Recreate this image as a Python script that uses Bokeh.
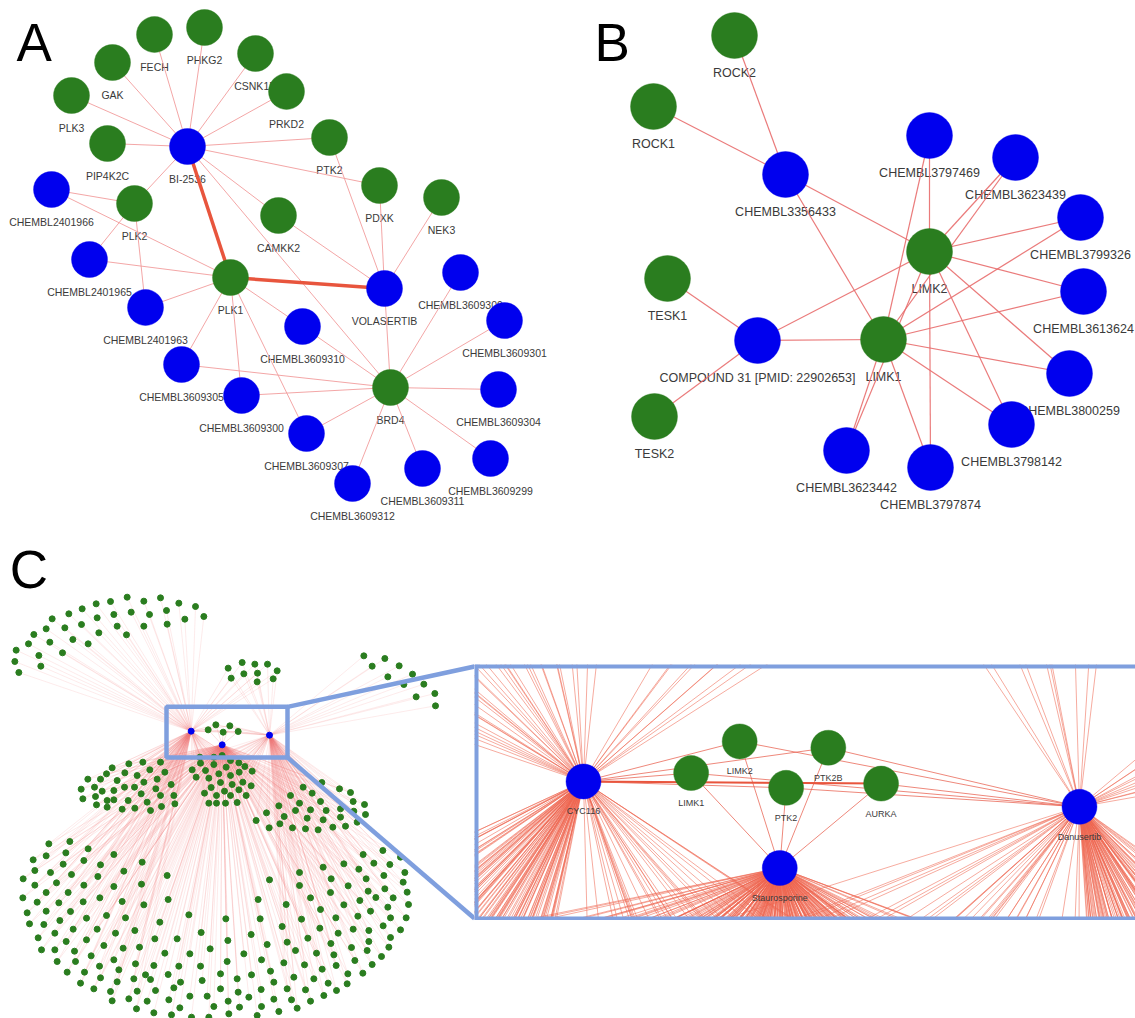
from bokeh.plotting import figure
from bokeh.models import ColumnDataSource, Range1d, Spacer
from bokeh.layouts import row, column
from bokeh.embed import file_html
from bokeh.resources import INLINE
from bokeh.core.properties import value

FONT = "Liberation Sans"
BLUE = "#0000ee"
GREEN = "#2a7d1f"
LABEL_COLOR = "#3a3a3a"
FRAME_BLUE = "#7f9fde"

# ---------------- Panel A : network around PLK1 ----------------
A_names = ["FECH", "PHKG2", "GAK", "CSNK1D", "PRKD2", "PLK3", "PIP4K2C", "BI-2536", "PTK2",
           "CHEMBL2401966", "PLK2", "PDXK", "NEK3", "CAMKK2", "CHEMBL2401965", "PLK1",
           "VOLASERTIB", "CHEMBL3609309", "CHEMBL2401963", "CHEMBL3609310", "CHEMBL3609301",
           "CHEMBL3609305", "BRD4", "CHEMBL3609304", "CHEMBL3609300", "CHEMBL3609307",
           "CHEMBL3609299", "CHEMBL3609311", "CHEMBL3609312"]
A_x = [154, 204, 112, 255, 286, 71, 107, 187, 329, 51, 134, 379, 441, 278, 89, 230,
       384, 460, 145, 302, 504, 181, 390, 498, 241, 306, 490, 422, 352]
A_y = [34, 27, 62, 53, 91, 95, 143, 146, 137, 189, 203, 185, 197, 215, 259, 277,
       288, 272, 307, 326, 320, 364, 387, 389, 395, 433, 458, 468, 483]
A_drugs = ["BI-2536", "VOLASERTIB", "CHEMBL2401966", "CHEMBL2401965", "CHEMBL2401963",
           "CHEMBL3609309", "CHEMBL3609310", "CHEMBL3609301", "CHEMBL3609305", "CHEMBL3609304",
           "CHEMBL3609300", "CHEMBL3609307", "CHEMBL3609299", "CHEMBL3609311", "CHEMBL3609312"]
A_edges = [("BI-2536", "FECH"), ("BI-2536", "PHKG2"), ("BI-2536", "GAK"), ("BI-2536", "CSNK1D"),
           ("BI-2536", "PRKD2"), ("BI-2536", "PLK3"), ("BI-2536", "PIP4K2C"), ("BI-2536", "PTK2"),
           ("BI-2536", "PDXK"), ("BI-2536", "PLK2"), ("BI-2536", "CAMKK2"), ("BI-2536", "BRD4"),
           ("PTK2", "VOLASERTIB"), ("PDXK", "VOLASERTIB"), ("NEK3", "VOLASERTIB"),
           ("CAMKK2", "VOLASERTIB"), ("VOLASERTIB", "BRD4"),
           ("CHEMBL2401966", "PLK2"), ("CHEMBL2401966", "PLK1"), ("CHEMBL2401965", "PLK2"),
           ("CHEMBL2401965", "PLK1"), ("CHEMBL2401963", "PLK2"), ("CHEMBL2401963", "PLK1"),
           ("PLK1", "CHEMBL3609305"), ("PLK1", "CHEMBL3609300"), ("PLK1", "CHEMBL3609307"),
           ("PLK1", "CHEMBL3609310"),
           ("BRD4", "CHEMBL3609305"), ("BRD4", "CHEMBL3609300"), ("BRD4", "CHEMBL3609307"),
           ("BRD4", "CHEMBL3609310"), ("BRD4", "CHEMBL3609309"), ("BRD4", "CHEMBL3609301"),
           ("BRD4", "CHEMBL3609304"), ("BRD4", "CHEMBL3609299"), ("BRD4", "CHEMBL3609311"),
           ("BRD4", "CHEMBL3609312")]
A_strong_edges = [("BI-2536", "PLK1"), ("PLK1", "VOLASERTIB")]

# ---------------- Panel B : network around LIMK1 / LIMK2 ----------------
B_names = ["ROCK2", "ROCK1", "CHEMBL3356433", "CHEMBL3797469", "CHEMBL3623439", "CHEMBL3799326",
           "LIMK2", "TESK1", "CHEMBL3613624", "COMPOUND 31 [PMID: 22902653]", "LIMK1",
           "CHEMBL3800259", "TESK2", "CHEMBL3798142", "CHEMBL3623442", "CHEMBL3797874"]
B_x = [734, 653, 785, 929, 1015, 1080, 929, 667, 1083, 757, 883, 1069, 654, 1011, 846, 930]
B_y = [35, 106, 174, 135, 157, 217, 251, 278, 291, 340, 339, 373, 416, 424, 450, 467]
B_drugs = ["CHEMBL3356433", "CHEMBL3797469", "CHEMBL3623439", "CHEMBL3799326", "CHEMBL3613624",
           "COMPOUND 31 [PMID: 22902653]", "CHEMBL3800259", "CHEMBL3798142", "CHEMBL3623442",
           "CHEMBL3797874"]
B_shared = ["CHEMBL3797469", "CHEMBL3623439", "CHEMBL3799326", "CHEMBL3613624", "CHEMBL3800259",
            "CHEMBL3798142", "CHEMBL3797874", "CHEMBL3623442"]
B_edges = [("ROCK2", "CHEMBL3356433"), ("ROCK1", "CHEMBL3356433"), ("CHEMBL3356433", "LIMK2"),
           ("CHEMBL3356433", "LIMK1"), ("TESK1", "COMPOUND 31 [PMID: 22902653]"),
           ("TESK2", "COMPOUND 31 [PMID: 22902653]"), ("COMPOUND 31 [PMID: 22902653]", "LIMK1"),
           ("COMPOUND 31 [PMID: 22902653]", "LIMK2")] + \
          [(d, "LIMK1") for d in B_shared] + [(d, "LIMK2") for d in B_shared]

# ---------------- Panel C : full network (layout units) ----------------
C_hubs = ["CYC116", "Staurosporine", "Danusertib"]
C_hub_x = [572, 665, 807]
C_hub_y = [452, 493, 464]
C_core = ["LIMK1", "LIMK2", "PTK2B", "PTK2", "AURKA"]
C_core_x = [623, 646, 688, 668, 713]
C_core_y = [448, 433, 436, 455, 453]
C_strong = [("CYC116", "AURKA")]

C_top_left = [(380, 50), (430, 62), (480, 52), (535, 68), (585, 78), (330, 63), (287, 70), (245, 85),
              (205, 100), (155, 115), (340, 102), (392, 95), (447, 102), (498, 90), (553, 116),
              (610, 108), (290, 112), (243, 132), (193, 142), (137, 145), (350, 137), (430, 137),
              (500, 131), (295, 157), (378, 163), (217, 177), (263, 190), (100, 162), (84, 190),
              (148, 185), (186, 217), (47, 209), (115, 225), (43, 243), (121, 257), (55, 276)]
C_top_mid = [(683, 263), (725, 246), (763, 251), (801, 251), (830, 271), (692, 293), (730, 280),
             (771, 278), (770, 304), (818, 295)]
C_top_right = [(1090, 226), (1153, 234), (1115, 257), (1196, 256), (1162, 289), (1236, 281),
               (1210, 312), (1270, 311), (1303, 339), (1247, 349), (1305, 376)]
C_mid_left = [(480, 545), (427, 545), (385, 550), (335, 562), (373, 577), (318, 580), (262, 596),
              (300, 596), (350, 600), (410, 585), (448, 568), (493, 575), (470, 596), (242, 626),
              (282, 620), (305, 632), (340, 630), (372, 620), (402, 620), (430, 605), (466, 625),
              (512, 612), (247, 655), (285, 648), (320, 660), (340, 658), (383, 660), (422, 640),
              (480, 645), (520, 645), (288, 673), (320, 680), (365, 686), (403, 683), (440, 665),
              (450, 690), (483, 678), (523, 670)]
C_mid_center = [(575, 568), (600, 548), (640, 552), (677, 560), (715, 547), (733, 558), (615, 570),
                (655, 580), (690, 585), (716, 575), (755, 572), (587, 590), (625, 593), (660, 606),
                (695, 612), (727, 605), (752, 616), (612, 638), (632, 621), (648, 645), (672, 632),
                (690, 645), (715, 628), (737, 645), (625, 668), (648, 668), (675, 668), (710, 666),
                (598, 530), (640, 530), (665, 525), (690, 540)]
C_mid_right = [(908, 620), (935, 638), (964, 606), (1017, 625), (1050, 636), (870, 645), (897, 668),
               (960, 663), (1058, 663), (1092, 672), (835, 676), (885, 690), (930, 688), (977, 690),
               (1020, 685), (1060, 692), (1095, 702), (798, 697), (851, 708), (920, 713), (968, 718),
               (1020, 710), (1070, 725), (767, 720), (806, 742), (838, 730), (876, 742), (915, 745),
               (953, 748), (997, 740), (1035, 737)]
C_bottom_west = [(145, 790), (208, 783), (263, 805), (340, 822), (137, 826), (196, 817), (250, 840),
                 (98, 838), (188, 851), (300, 853), (103, 870), (150, 876), (213, 882), (292, 888),
                 (370, 872), (68, 895), (103, 914), (168, 907), (250, 914), (340, 918), (137, 936),
                 (203, 936), (67, 952), (110, 965), (175, 967), (248, 964), (298, 952), (365, 963),
                 (80, 997), (137, 992), (210, 993), (87, 1030), (130, 1032), (178, 1020), (258, 1013),
                 (318, 1005), (375, 1012), (163, 1058), (218, 1046), (290, 1046), (345, 1058),
                 (403, 1050), (113, 1072), (197, 1083), (258, 1078), (310, 1095), (368, 1103),
                 (417, 1100), (123, 1108), (163, 1108), (222, 1112), (170, 1143), (225, 1143),
                 (272, 1126), (340, 1138), (405, 1150), (200, 1175), (252, 1175), (297, 1157),
                 (355, 1168), (240, 1208), (300, 1192), (350, 1204), (400, 1195), (280, 1225),
                 (330, 1233), (410, 1232), (335, 1261), (385, 1255), (408, 1285)]
C_bottom_center = [(425, 845), (500, 885), (807, 898), (423, 911), (430, 973), (503, 957), (773, 957),
                   (478, 1025), (565, 1003), (676, 1015), (779, 1015), (602, 1056), (752, 1062),
                   (845, 1038), (463, 1075), (530, 1075), (682, 1080), (800, 1092), (493, 1118),
                   (568, 1120), (629, 1105), (730, 1120), (460, 1155), (535, 1157), (600, 1157),
                   (680, 1143), (783, 1138), (435, 1183), (503, 1182), (660, 1180), (753, 1183),
                   (810, 1172), (450, 1197), (540, 1205), (605, 1200), (710, 1195), (820, 1205),
                   (465, 1230), (520, 1222), (568, 1247), (620, 1247), (660, 1225), (713, 1235),
                   (782, 1227), (440, 1262), (505, 1258), (683, 1262), (745, 1250), (820, 1256),
                   (460, 1297), (513, 1303), (538, 1282), (573, 1310), (625, 1310), (640, 1278),
                   (685, 1300), (717, 1280), (770, 1305), (783, 1278), (835, 1293)]
C_bottom_east = [(1088, 822), (1147, 810), (1200, 830), (1030, 850), (1075, 866), (1120, 848),
                 (1168, 852), (968, 860), (1213, 876), (897, 876), (992, 895), (1097, 895),
                 (1150, 885), (897, 915), (1043, 916), (1208, 905), (990, 936), (1103, 932),
                 (1153, 925), (1220, 935), (857, 972), (930, 952), (1030, 973), (1078, 960),
                 (1126, 951), (1178, 952), (1224, 972), (960, 987), (1110, 992), (1162, 980),
                 (903, 1016), (1006, 1012), (1072, 1007), (1170, 1012), (1217, 1012), (958, 1043),
                 (1013, 1058), (1058, 1046), (1105, 1050), (1148, 1036), (1200, 1048), (860, 1085),
                 (922, 1073), (991, 1089), (1053, 1101), (1105, 1083), (1170, 1071), (885, 1110),
                 (948, 1118), (1000, 1123), (1100, 1110), (1165, 1100), (850, 1147), (912, 1153),
                 (965, 1166), (1063, 1140), (1143, 1128), (1115, 1152), (1007, 1155), (1042, 1180),
                 (1087, 1178), (880, 1190), (940, 1195), (983, 1208), (1040, 1210), (860, 1225),
                 (915, 1228), (970, 1245), (1008, 1230), (873, 1258), (930, 1262), (890, 1283)]
C_clusters = [(C_top_left, ["CYC116"]), (C_top_mid, ["CYC116", "Danusertib"]),
              (C_top_right, ["Danusertib"]), (C_mid_left, ["Staurosporine", "CYC116"]),
              (C_mid_center, ["Staurosporine", "CYC116", "Danusertib"]),
              (C_mid_right, ["Staurosporine", "Danusertib"]),
              (C_bottom_west, ["Staurosporine", "CYC116"]), (C_bottom_center, ["Staurosporine"]),
              (C_bottom_east, ["Staurosporine", "Danusertib"])]
ZOOM_BOX = (498, 861, 379, 531)          # left, right, top, bottom (layout units)
INSET_X = (520.36, 833.54)
INSET_Y = (517.86, 396.57)

# ---------------- helpers ----------------
COMMON = dict(toolbar_location=None, output_backend="svg", x_axis_type=None, y_axis_type=None,
              outline_line_color=None, background_fill_color="white", border_fill_color="white",
              min_border=0)


def edge_source(pos, edges):
    return ColumnDataSource(dict(
        x0=[pos[a][0] for a, b in edges], y0=[pos[a][1] for a, b in edges],
        x1=[pos[b][0] for a, b in edges], y1=[pos[b][1] for a, b in edges]))


def draw_network(p, names, xs, ys, drugs, edges, strong, node_size, font_size, label_off,
                 edge_color, edge_width):
    pos = {n: (x, y) for n, x, y in zip(names, xs, ys)}
    src = ColumnDataSource(dict(x=xs, y=ys, name=names,
                                color=[BLUE if n in drugs else GREEN for n in names]))
    p.text("x", "y", text="name", source=src, text_font=value(FONT), text_font_size=font_size,
           text_align="center", text_baseline="middle", y_offset=label_off, text_color=LABEL_COLOR)
    p.segment("x0", "y0", "x1", "y1", source=edge_source(pos, edges), line_color=edge_color,
              line_width=edge_width, line_alpha=0.9)
    if strong:
        p.segment("x0", "y0", "x1", "y1", source=edge_source(pos, strong), line_color="#e8553d",
                  line_width=3.5)
    p.scatter("x", "y", source=src, size=node_size, fill_color="color", line_color="color",
              line_alpha=0.4, line_width=1)


def panel_letter(p, x, y, letter):
    p.text([x], [y], text=[letter], text_font=value(FONT), text_font_size="53px",
           text_align="left", text_baseline="middle", text_color="black")


# ---------------- figure A ----------------
figA = figure(width=560, height=540, x_range=Range1d(0, 560), y_range=Range1d(540, 0), **COMMON)
draw_network(figA, A_names, A_x, A_y, A_drugs, A_edges, A_strong_edges, 36, "10.5px", 32,
             "#f29c9c", 1)
panel_letter(figA, 16, 42, "A")

# ---------------- figure B ----------------
figB = figure(width=575, height=540, x_range=Range1d(560, 1135), y_range=Range1d(540, 0), **COMMON)
draw_network(figB, B_names, B_x, B_y, B_drugs, B_edges, [], 46, "12.5px", 37, "#e86d6d", 1.2)
panel_letter(figB, 594, 41.5, "B")

# ---------------- panel C network edges ----------------
hub_pos = {n: (x, y) for n, x, y in zip(C_hubs, C_hub_x, C_hub_y)}
core_pos = {n: (x, y) for n, x, y in zip(C_core, C_core_x, C_core_y)}
fan = dict(x0=[], y0=[], x1=[], y1=[])
for pts, hubs in C_clusters:
    for h in hubs:
        for (px, py) in pts:
            fan["x0"].append(hub_pos[h][0]); fan["y0"].append(hub_pos[h][1])
            fan["x1"].append(px); fan["y1"].append(py)
core_edges = dict(x0=[], y0=[], x1=[], y1=[])
for h in C_hubs:
    for c in C_core:
        core_edges["x0"].append(hub_pos[h][0]); core_edges["y0"].append(hub_pos[h][1])
        core_edges["x1"].append(core_pos[c][0]); core_edges["y1"].append(core_pos[c][1])
strong_c = dict(x0=[hub_pos[a][0] for a, b in C_strong], y0=[hub_pos[a][1] for a, b in C_strong],
                x1=[core_pos[b][0] for a, b in C_strong], y1=[core_pos[b][1] for a, b in C_strong])
all_x = [x for pts, _ in C_clusters for x, _y in pts]
all_y = [y for pts, _ in C_clusters for _x, y in pts]

# ---------------- figure C (overview) ----------------
figC = figure(width=474, height=478, x_range=Range1d(0, 1422), y_range=Range1d(1314, -120), **COMMON)
figC.segment("x0", "y0", "x1", "y1", source=ColumnDataSource(fan), line_color="#ef7a7a",
             line_alpha=0.26, line_width=0.6)
figC.segment("x0", "y0", "x1", "y1", source=ColumnDataSource(core_edges), line_color="#ef7a7a",
             line_alpha=0.4, line_width=0.6)
figC.scatter(all_x, all_y, size=6, fill_color=GREEN, line_color=GREEN)
figC.scatter(C_core_x, C_core_y, size=6, fill_color=GREEN, line_color=GREEN)
figC.scatter(C_hub_x, C_hub_y, size=6, fill_color=BLUE, line_color=BLUE)
l, r, t, b = ZOOM_BOX
figC.quad(left=[l], right=[r], top=[t], bottom=[b], fill_color=None, line_color=FRAME_BLUE,
          line_width=4.5)
figC.segment(x0=[r, r], y0=[t, b], x1=[1422, 1422], y1=[258, 1014], line_color=FRAME_BLUE,
             line_width=4.5)
panel_letter(figC, 28, -33, "C")

# ---------------- inset (magnified view of the same network) ----------------
figI = figure(width=661, height=256, x_range=Range1d(*INSET_X), y_range=Range1d(*INSET_Y), **COMMON)
figI.segment("x0", "y0", "x1", "y1", source=ColumnDataSource(fan), line_color="#ee6650",
             line_alpha=0.55, line_width=1)
figI.segment("x0", "y0", "x1", "y1", source=ColumnDataSource(core_edges), line_color="#e8604f",
             line_alpha=0.75, line_width=1)
figI.segment("x0", "y0", "x1", "y1", source=ColumnDataSource(strong_c), line_color="#e8553d",
             line_width=2)
inset_src = ColumnDataSource(dict(x=C_hub_x + C_core_x, y=C_hub_y + C_core_y, name=C_hubs + C_core,
                                  color=[BLUE] * len(C_hubs) + [GREEN] * len(C_core)))
figI.text("x", "y", text="name", source=inset_src, text_font=value(FONT), text_font_size="9px",
          text_align="center", text_baseline="middle", y_offset=30, text_color=LABEL_COLOR)
figI.scatter("x", "y", source=inset_src, size=35, fill_color="color", line_color="color",
             line_alpha=0.4)
# open-ended frame of the magnified view (top, bottom, left edges; right side runs off the page)
x0i, x1i = INSET_X
ybot, ytop = INSET_Y
figI.segment(x0=[x0i, x0i, x0i], y0=[ytop, ybot, ytop], x1=[x1i, x1i, x0i], y1=[ytop, ybot, ybot],
             line_color=FRAME_BLUE, line_width=8)

layout = column(row(figA, figB),
                row(figC, column(Spacer(width=661, height=124), figI)))

with open("out.html", "w") as f:
    f.write(file_html(layout, INLINE))
